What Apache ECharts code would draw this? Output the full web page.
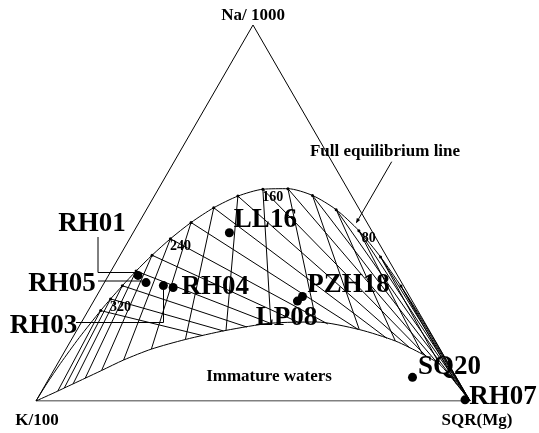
<!DOCTYPE html>
<html>
<head>
<meta charset="utf-8">
<script src="https://cdn.jsdelivr.net/npm/echarts@6/dist/echarts.min.js"></script>
<style>
  html, body { margin: 0; padding: 0; background: #fff; }
  #chart { width: 539px; height: 433px; }
</style>
</head>
<body>
<div id="chart"></div>
<script>
// ternary values in %, order: Na/1000, K/100, SQR(Mg)

// full equilibrium line (deg C)
var eqTemps = [0, 20, 40, 60, 80, 100, 120, 140, 160, 180, 200, 220, 240, 260, 280, 300, 320, 340, 400, 500, 700];
var eqNa = [15.58, 22.73, 30.56, 38.32, 45.31, 50.89, 54.67, 56.47, 56.32, 54.50, 51.39, 47.47, 43.15, 38.77, 34.56, 30.66, 27.15, 24.04, 16.85, 9.98, 4.55];
var eqK  = [0.07, 0.23, 0.63, 1.45, 2.95, 5.39, 8.96, 13.72, 19.57, 26.24, 33.35, 40.53, 47.45, 53.87, 59.66, 64.78, 69.23, 73.08, 81.61, 89.39, 95.27];
var eqMg = [84.35, 77.04, 68.81, 60.23, 51.74, 43.72, 36.37, 29.81, 24.11, 19.27, 15.26, 11.99, 9.40, 7.36, 5.78, 4.56, 3.61, 2.88, 1.54, 0.64, 0.18];

// temperatures that get a dot + isotherms
var dotTemps = [40, 60, 80, 100, 120, 140, 160, 180, 200, 220, 240, 260, 280, 300, 320, 340];
var tempLabels = [80, 160, 240, 320];

// lower (immature waters) boundary, where each K-Mg isotherm ends
var lowNa = [4.57, 9.73, 12.45, 15.96, 19.00, 21.01, 20.69, 18.78, 16.36, 13.80, 10.90, 8.11, 6.06, 4.55, 3.46, 2.63];
var lowK  = [0.86, 2.12, 4.72, 9.22, 16.01, 24.89, 35.54, 46.83, 57.40, 66.52, 74.37, 80.84, 85.64, 89.18, 91.75, 93.67];
var lowMg = [94.57, 88.15, 82.83, 74.82, 64.99, 54.10, 43.77, 34.39, 26.24, 19.68, 14.73, 11.05, 8.30, 6.27, 4.79, 3.70];

// samples
var sampleNames = ['LL16', 'RH01', 'RH05', 'RH03', 'RH04', 'PZH18', 'LP08', 'SQ20', 'RH07'];
var sampleNa = [44.8, 33.4, 31.5, 30.7, 30.2, 27.8, 26.6, 6.3, 0.3];
var sampleK  = [33.1, 59.8, 58.9, 55.3, 53.3, 24.7, 26.5, 10.1, 1.0];
var sampleMg = [22.2, 6.8, 9.6, 14.0, 16.5, 47.5, 47.0, 83.6, 98.7];

// label placement (offset of the label centre from the dot)
var labelOffsets = {
  LL16: [36, -13], RH01: [-46, -51], RH05: [-84, 1], RH03: [-120, 40], RH04: [42, 0],
  PZH18: [46, -11], LP08: [-11, 17], SQ20: [37, -10], RH07: [38, -3]
};

var H = Math.sqrt(3) / 2;
function tern(na, k, mg) {
  var s = na + k + mg;
  var a = na / s, m = mg / s;
  return [m + a / 2, a * H];
}
function eqPoint(t) {
  var i = eqTemps.indexOf(t);
  return tern(eqNa[i], eqK[i], eqMg[i]);
}

var cK = tern(0, 100, 0), cMg = tern(0, 0, 100), cNa = tern(100, 0, 0);

// curves
var eqCurve = [cK];
for (var i = eqTemps.length - 1; i >= 0; i--) eqCurve.push(tern(eqNa[i], eqK[i], eqMg[i]));
eqCurve.push(cMg);

var lowCurve = [cK];
for (var i = dotTemps.length - 1; i >= 0; i--) lowCurve.push(tern(lowNa[i], lowK[i], lowMg[i]));
lowCurve.push(cMg);

// segment intersection, returns param along p->q or null
function hit(p, q, a, b) {
  var rx = q[0] - p[0], ry = q[1] - p[1], sx = b[0] - a[0], sy = b[1] - a[1];
  var d = rx * sy - ry * sx;
  if (Math.abs(d) < 1e-12) return null;
  var t = ((a[0] - p[0]) * sy - (a[1] - p[1]) * sx) / d;
  var u = ((a[0] - p[0]) * ry - (a[1] - p[1]) * rx) / d;
  if (t > 1e-6 && t < 1 - 1e-6 && u >= 0 && u <= 1) return t;
  return null;
}

// isotherms
var isoLines = [];
dotTemps.forEach(function (t, i) {
  var p = eqPoint(t);
  // K-Mg isotherm: down to the lower boundary
  isoLines.push({ coords: [p, tern(lowNa[i], lowK[i], lowMg[i])] });
  // Na-K isotherm: toward the Mg corner, cut at the lower boundary
  var best = 1;
  for (var j = 0; j < lowCurve.length - 1; j++) {
    var s = hit(p, cMg, lowCurve[j], lowCurve[j + 1]);
    if (s !== null && s < best) best = s;
  }
  isoLines.push({ coords: [p, [p[0] + (cMg[0] - p[0]) * best, p[1] + (cMg[1] - p[1]) * best]] });
});

var dotData = dotTemps.map(function (t) {
  var item = { value: eqPoint(t) };
  if (tempLabels.indexOf(t) >= 0) item.label = { show: true, formatter: String(t) };
  return item;
});

var sampleData = sampleNames.map(function (n, i) {
  return {
    name: n,
    value: tern(sampleNa[i], sampleK[i], sampleMg[i]),
    label: { offset: labelOffsets[n] }
  };
});

var serif = '"Liberation Serif", "Times New Roman", serif';
var lineStyle = { color: '#000', width: 1, opacity: 1 };

var myChart = echarts.init(document.getElementById('chart'));
myChart.setOption({
  animation: false,
  grid: { left: 36, top: 25, width: 434, height: 376 },
  xAxis: { type: 'value', min: 0, max: 1, show: false },
  yAxis: { type: 'value', min: 0, max: H, show: false },
  series: [
    {
      type: 'line', data: [cK, cMg, cNa, cK], symbol: 'none', silent: true,
      lineStyle: lineStyle
    },
    {
      type: 'line', data: eqCurve, symbol: 'none', smooth: 0.25, silent: true,
      lineStyle: lineStyle
    },
    {
      type: 'line', data: lowCurve, symbol: 'none', smooth: 0.25, silent: true,
      lineStyle: lineStyle
    },
    {
      type: 'lines', coordinateSystem: 'cartesian2d', data: isoLines, silent: true,
      lineStyle: lineStyle
    },
    {
      type: 'scatter', data: dotData, symbolSize: 3, silent: true,
      itemStyle: { color: '#000', opacity: 1 },
      label: {
        show: false, position: 'inside', offset: [10, 8],
        color: '#000', textBorderWidth: 0, fontFamily: serif, fontWeight: 'bold', fontSize: 14
      }
    },
    {
      type: 'scatter', data: sampleData, symbolSize: 9, silent: true,
      itemStyle: { color: '#000', opacity: 1 },
      label: {
        show: true, position: 'inside', formatter: '{b}',
        color: '#000', textBorderWidth: 0, fontFamily: serif, fontWeight: 'bold', fontSize: 27
      }
    }
  ],
  graphic: [
    { type: 'text', x: 253, y: 16, style: { text: 'Na/ 1000', font: 'bold 17px ' + serif, fill: '#000', align: 'center', verticalAlign: 'middle' } },
    { type: 'text', x: 37, y: 421, style: { text: 'K/100', font: 'bold 17px ' + serif, fill: '#000', align: 'center', verticalAlign: 'middle' } },
    { type: 'text', x: 477, y: 421, style: { text: 'SQR(Mg)', font: 'bold 17px ' + serif, fill: '#000', align: 'center', verticalAlign: 'middle' } },
    { type: 'text', x: 385, y: 152, style: { text: 'Full equilibrium line', font: 'bold 17px ' + serif, fill: '#000', align: 'center', verticalAlign: 'middle' } },
    { type: 'text', x: 269, y: 377, style: { text: 'Immature waters', font: 'bold 17px ' + serif, fill: '#000', align: 'center', verticalAlign: 'middle' } },
    { type: 'line', shape: { x1: 391.7, y1: 161.7, x2: 356.5, y2: 222.5 }, style: { stroke: '#000', lineWidth: 1 } },
    { type: 'polygon', shape: { points: [[356, 223.3], [360.2, 219.9], [356.8, 218]] }, style: { fill: '#000' } },
    { type: 'polyline', shape: { points: [[98, 237], [98, 272.5], [136, 272.5]] }, style: { stroke: '#000', lineWidth: 1, fill: null } },
    { type: 'polyline', shape: { points: [[98, 281], [142, 281]] }, style: { stroke: '#000', lineWidth: 1, fill: null } },
    { type: 'polyline', shape: { points: [[76, 322.5], [163.5, 322.5], [163.5, 290]] }, style: { stroke: '#000', lineWidth: 1, fill: null } }
  ]
});
</script>
</body>
</html>
